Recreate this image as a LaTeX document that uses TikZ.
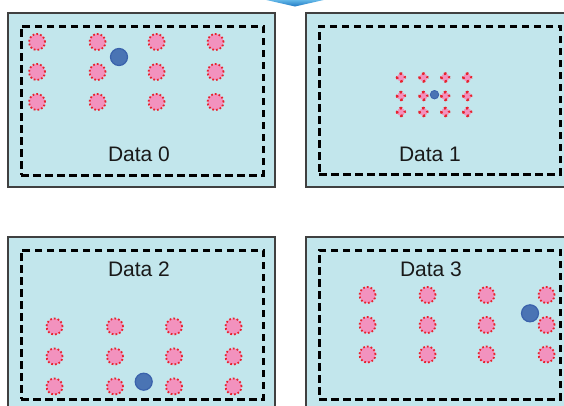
\documentclass[tikz,border=0pt]{standalone}
\usepackage{fontspec}
\setmainfont{Liberation Sans}
\begin{document}
\begin{tikzpicture}[x=1pt,y=-1pt,
  panel/.style={draw=black!75,line width=1.2pt,fill=boxcyan,rectangle,inner sep=0pt},
  frame/.style={draw=black,line width=3pt,dash pattern=on 7.5pt off 4.5pt,rectangle,inner sep=0pt},
  pt/.style={circle,inner sep=0pt,minimum size=16pt,fill=dotpink,draw=dotred,line width=1.8pt,dash pattern=on 1.7pt off 2.1pt},
  spt/.style={circle,inner sep=0pt,minimum size=8pt,fill=dotpink,draw=dotred,line width=2.4pt,dash pattern=on 2.6pt off 3.68pt,dash phase=1.3pt},
  bpt/.style={circle,inner sep=0pt,minimum size=17pt,fill=bluefill,draw=blueedge,line width=1.2pt},
  sbpt/.style={circle,inner sep=0pt,minimum size=8.5pt,fill=bluefill,draw=blueedge,line width=0.8pt},
  lbl/.style={font=\fontsize{21}{25}\selectfont,text=black!90,inner sep=0pt}]
\definecolor{boxcyan}{HTML}{C2E6EC}
\definecolor{dotpink}{HTML}{F292BE}
\definecolor{dotred}{HTML}{E8222E}
\definecolor{bluefill}{HTML}{4A74B4}
\definecolor{blueedge}{HTML}{3A62AC}
\definecolor{arrowtop}{HTML}{6CC0EC}
\definecolor{arrowbot}{HTML}{1F78C4}
\useasboundingbox (0,0) rectangle (564,405);
\clip (0,0) rectangle (564,405);
% arrow tip at top
\shade[top color=arrowtop,bottom color=arrowbot] (262,-1) -- (328,-1) -- (295,6.5) -- cycle;
% panels
\node[panel,minimum width=267pt,minimum height=174pt] (p0) at (141.5,100) {};
\node[panel,minimum width=267pt,minimum height=174pt] (p1) at (439.5,100) {};
\node[panel,minimum width=267pt,minimum height=174pt] (p2) at (141.5,324) {};
\node[panel,minimum width=267pt,minimum height=174pt] (p3) at (439.5,324) {};
% dashed frames
\node[frame,minimum width=242pt,minimum height=149pt] (f0) at (142,100.5) {};
\node[frame,minimum width=241pt,minimum height=148pt] (f1) at (439.5,100) {};
\node[frame,minimum width=242pt,minimum height=149pt] (f2) at (142,324.5) {};
\node[frame,minimum width=241pt,minimum height=149pt] (f3) at (439.5,324.5) {};
% labels
\node[lbl] (l0) at (139,154) {Data 0};
\node[lbl] (l1) at (430,154) {Data 1};
\node[lbl] (l2) at (139,269.5) {Data 2};
\node[lbl] (l3) at (431,269.5) {Data 3};
% Data 0 points
\foreach \c/\x in {a/37,b/97.5,c/156.5,d/215.5}{
  \foreach \r/\y in {1/42,2/72,3/102}{
    \node[pt] (d0\c\r) at (\x,\y) {};
  }}
\node[bpt] (q0) at (119,57) {};
% Data 1 points
\foreach \c/\x in {a/401,b/423.5,c/445.3,d/467.3}{
  \foreach \r/\y in {1/77.5,2/96,3/112}{
    \node[spt] (d1\c\r) at (\x,\y) {};
  }}
\node[sbpt] (q1) at (434.5,94.7) {};
% Data 2 points
\foreach \c/\x in {a/54.5,b/115,c/174,d/233.5}{
  \foreach \r/\y in {1/326.5,2/356.5,3/386.5}{
    \node[pt] (d2\c\r) at (\x,\y) {};
  }}
\node[bpt] (q2) at (143.7,381.7) {};
% Data 3 points
\foreach \c/\x in {a/367.5,b/427.5,c/486.5,d/546.5}{
  \foreach \r/\y in {1/295,2/325,3/354.5}{
    \node[pt] (d3\c\r) at (\x,\y) {};
  }}
\node[bpt] (q3) at (530,313.3) {};
\end{tikzpicture}
\end{document}
